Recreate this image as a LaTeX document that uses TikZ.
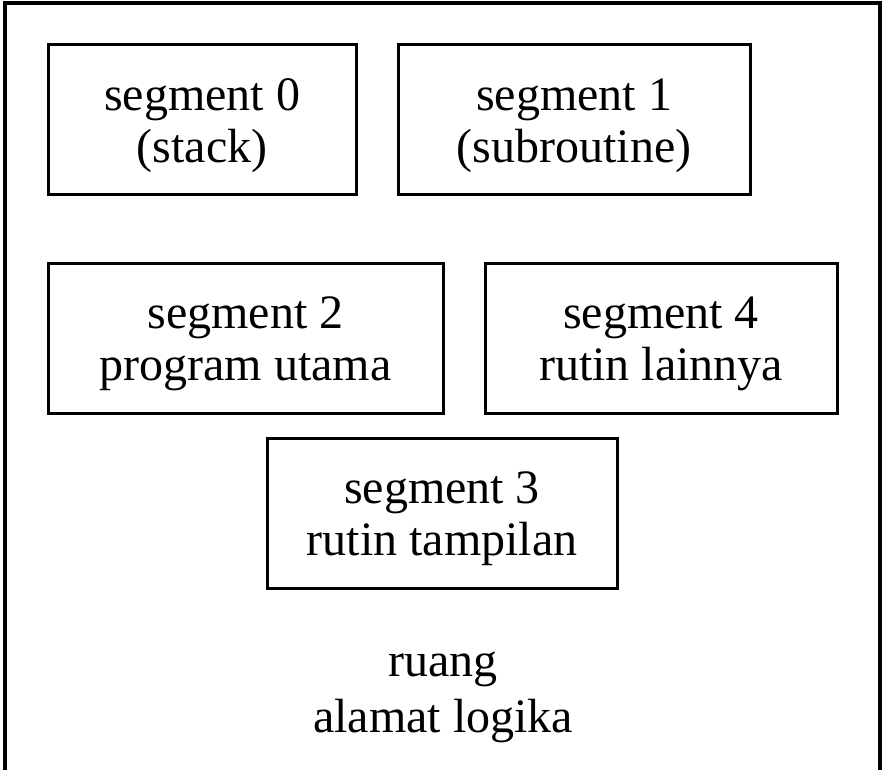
\documentclass[tikz,border=0pt]{standalone}
\usepackage{fontspec}
\setmainfont{Liberation Serif}
\begin{document}
\begin{tikzpicture}[x=1pt,y=-1pt,
  segbox/.style={draw, line width=3pt, minimum height=150pt, inner sep=0pt},
  segtxt/.style={align=center, inner sep=0pt, font=\fontsize{48}{52}\selectfont},
  lbl/.style={align=center, inner sep=0pt, font=\fontsize{48}{56}\selectfont}]
\useasboundingbox (0,0) rectangle (883,770);
\coordinate (bl) at (5,772);
\coordinate (tl) at (5,3);
\coordinate (tr) at (880,3);
\coordinate (br) at (880,772);
\draw[line width=4pt] (bl) -- (tl) -- (tr) -- (br);
\node[segbox, minimum width=308pt] (s0) at (202,119.5) {};
\node[segbox, minimum width=352pt] (s1) at (574,119.5) {};
\node[segbox, minimum width=395pt] (s2) at (245.5,338) {};
\node[segbox, minimum width=352pt] (s4) at (661,338) {};
\node[segbox, minimum width=350pt] (s3) at (442,513) {};
\node[segtxt] (t0) at ([yshift=-6pt]s0.center) {segment 0\\(stack)};
\node[segtxt] (t1) at ([yshift=-6pt]s1.center) {segment 1\\(subroutine)};
\node[segtxt] (t2) at ([yshift=-6pt]s2.center) {segment 2\\program utama};
\node[segtxt] (t4) at ([yshift=-6pt]s4.center) {segment 4\\rutin lainnya};
\node[segtxt] (t3) at ([yshift=-6pt]s3.center) {segment 3\\rutin tampilan};
\node[lbl] (ruang) at (443,697) {ruang\\alamat logika};
\end{tikzpicture}
\end{document}
